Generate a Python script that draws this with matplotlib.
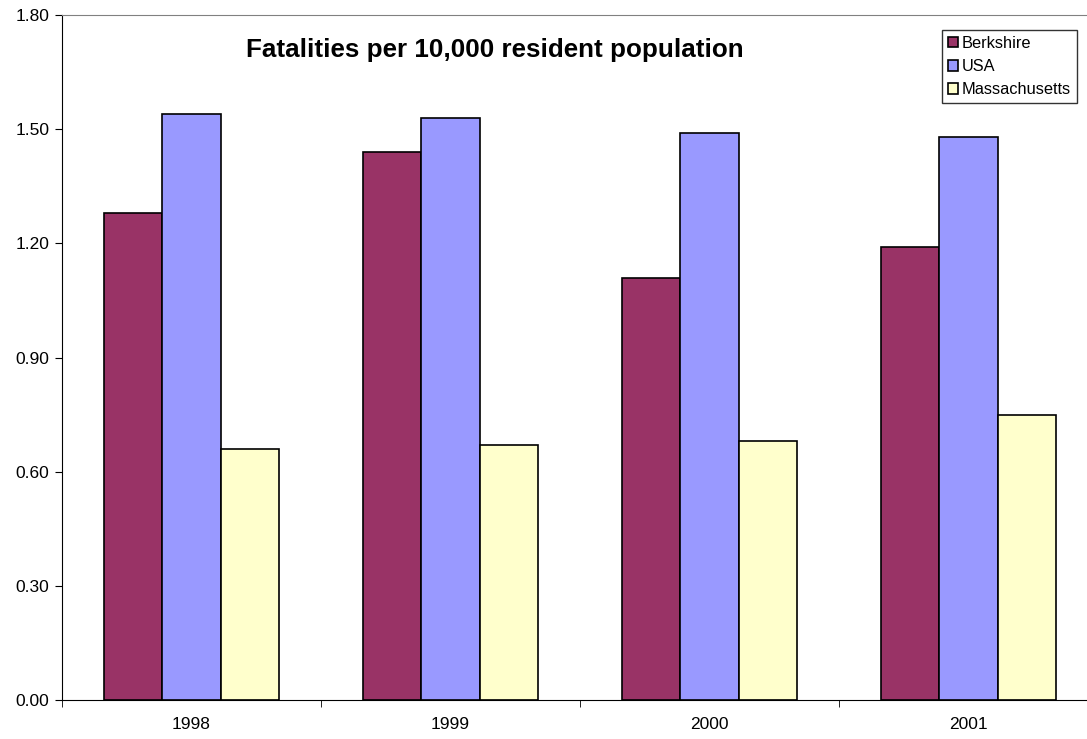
import matplotlib.pyplot as plt
import numpy as np

plt.rcParams['font.family'] = ['Liberation Sans', 'DejaVu Sans']

# data
years = ["1998", "1999", "2000", "2001"]
berkshire = [1.28, 1.44, 1.11, 1.19]
usa = [1.54, 1.53, 1.49, 1.48]
massachusetts = [0.66, 0.67, 0.68, 0.75]

fig = plt.figure(figsize=(10.87, 7.39), dpi=100)
# plot area runs a bit past the right edge, like the original
ax = fig.add_axes([62 / 1087, 1 - 700 / 739, 1036 / 1087, 685 / 739])

x = np.arange(len(years))
w = 0.224
ax.bar(x - w, berkshire, w, color="#993366", edgecolor="black", linewidth=1.2, label="Berkshire")
ax.bar(x, usa, w, color="#9999FF", edgecolor="black", linewidth=1.2, label="USA")
ax.bar(x + w, massachusetts, w, color="#FFFFCC", edgecolor="black", linewidth=1.2, label="Massachusetts")

ax.set_xlim(-0.5, len(years) - 0.5)
ax.set_ylim(0, 1.8)
ax.set_yticks(np.arange(0, 1.81, 0.3))
ax.set_yticklabels(["%.2f" % v for v in np.arange(0, 1.81, 0.3)], fontsize=12.5)
ax.set_xticks(x)
ax.set_xticklabels(years, fontsize=12.5)
ax.set_xticks(np.arange(-0.5, len(years), 1), minor=True)
ax.tick_params(axis="x", which="major", length=0, pad=12)
ax.tick_params(axis="x", which="minor", length=5, direction="out", color="black")
ax.tick_params(axis="y", length=5, direction="out", color="black", pad=4)

ax.spines["right"].set_visible(False)
ax.spines["top"].set_color("gray")
ax.spines["left"].set_color("black")
ax.spines["bottom"].set_color("black")

ax.text(495 / 1087, 1 - 50 / 739, "Fatalities per 10,000 resident population",
        transform=fig.transFigure, ha="center", va="center", fontsize=18.7, fontweight="bold")

leg = fig.legend(loc="upper left", bbox_to_anchor=(942 / 1087, 1 - 30 / 739), fontsize=11.8,
                 frameon=True, fancybox=False, edgecolor="black", handlelength=0.65, handleheight=0.65,
                 handletextpad=0.2, borderpad=0.35, labelspacing=0.5, borderaxespad=0)
leg.get_frame().set_linewidth(1)

plt.savefig("out.png", dpi=100)
